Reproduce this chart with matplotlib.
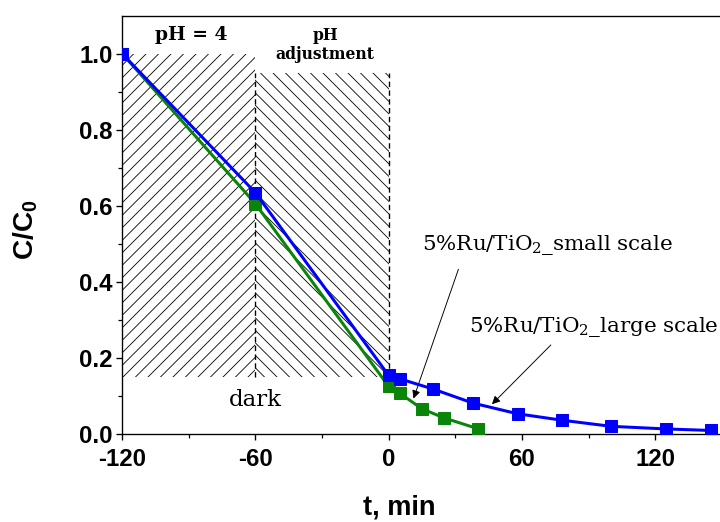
import numpy as np
from matplotlib import pyplot as plt

# data
t_large = [-120, -60, 0, 5, 20, 38, 58, 78, 100, 125, 145]
c_large = [1.0, 0.634, 0.153, 0.144, 0.117, 0.080, 0.052, 0.035, 0.019, 0.012, 0.008]

t_small = [-120, -60, 0, 5, 15, 25, 40]
c_small = [1.0, 0.605, 0.124, 0.106, 0.065, 0.041, 0.013]

ph4_span = [-120, -60]
ph4_top = 1.0
adj_span = [-60, 0]
adj_top = 0.948
hatch_bottom = 0.15

x_ticks = [-120, -60, 0, 60, 120]
y_ticks = [0.0, 0.2, 0.4, 0.6, 0.8, 1.0]

sans = "Liberation Sans"
serif = "DejaVu Serif"

plt.rcParams["hatch.linewidth"] = 0.8
plt.rcParams["font.family"] = sans
plt.rcParams["axes.unicode_minus"] = False

# dpi 75 so that the hatch spacing comes out like the reference
fig = plt.figure(figsize=(9.6, 6.96), dpi=75)
ax = fig.add_axes([0.1694, 0.1695, 0.8333, 0.8008])

# hatched regions
ax.fill_between(ph4_span, hatch_bottom, ph4_top, facecolor="none",
                edgecolor="black", hatch="//", linewidth=0)
ax.fill_between(adj_span, hatch_bottom, adj_top, facecolor="none",
                edgecolor="black", hatch="\\\\", linewidth=0)
ax.vlines([adj_span[0], adj_span[1]], hatch_bottom, adj_top,
          colors="black", linestyles=(0, (4, 2.5)), linewidth=1.3)

ax.plot(t_small, c_small, color="#0a850a", marker="s", markersize=11,
        linewidth=2.9, zorder=3)
ax.plot(t_large, c_large, color="#0000ff", marker="s", markersize=11,
        linewidth=2.9, zorder=4)

ax.set_xlim(-120, 150)
ax.set_ylim(0, 1.1)
ax.set_xticks(x_ticks)
ax.set_yticks(y_ticks)
ax.set_xticks(np.arange(-90, 150, 60), minor=True)
ax.set_yticks(np.arange(0.1, 1.1, 0.2), minor=True)
ax.set_yticklabels([f"{v:.1f}" for v in y_ticks])
ax.tick_params(which="major", direction="out", length=6, width=1.3,
               labelsize=23, pad=3)
ax.tick_params(which="minor", direction="out", length=3.5, width=1.2)
ax.tick_params(axis="x", which="major", pad=8)
for lab in ax.get_xticklabels() + ax.get_yticklabels():
    lab.set_fontweight("bold")
for side in ["left", "bottom", "top", "right"]:
    ax.spines[side].set_linewidth(1.3)

ax.set_xlabel("t, min", fontsize=26, fontweight="bold", va="baseline")
ax.set_ylabel(r"C/C$\mathregular{_0}$", fontsize=27, fontweight="bold",
              va="baseline")
ax.xaxis.set_label_coords(0.462, -0.194)
ax.yaxis.set_label_coords(-0.148, 0.487)

ax.text(-88.9, 1.048, "pH = 4", family=serif, fontweight="bold",
        fontsize=18, ha="center", va="center")
ax.text(-28.5, 1.022, "pH\nadjustment", family=serif, fontweight="bold",
        fontsize=15, ha="center", va="center", linespacing=1.15)
ax.text(-59.8, 0.072, "dark", family=serif, fontsize=22,
        ha="center", va="baseline")

ax.text(15.2, 0.496, r"5%Ru/TiO$\mathregular{_2}$_small scale",
        family=serif, fontsize=20.5, va="center")
ax.text(36.3, 0.28, r"5%Ru/TiO$\mathregular{_2}$_large scale",
        family=serif, fontsize=20.5, va="center", clip_on=False)
arrow = dict(arrowstyle="-|>", color="black", lw=0.9, shrinkA=0, shrinkB=0,
             mutation_scale=16)
ax.annotate("", xy=(11.2, 0.092), xytext=(31.4, 0.432), arrowprops=arrow)
ax.annotate("", xy=(46.5, 0.077), xytext=(73, 0.233), arrowprops=arrow)

fig.savefig("out.png", dpi=75)
